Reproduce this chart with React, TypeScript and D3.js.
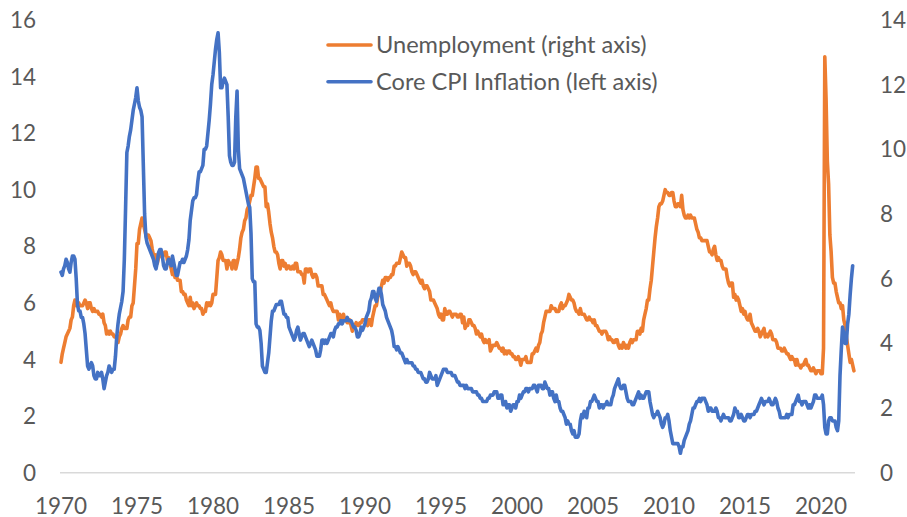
import * as d3 from "d3"

// monthly values, Jan 1970 onward
const startYear = 1970

// unemployment rate, % (Jan 1970 - Mar 2022)
const unemployment: number[] = [
  3.9, 4.2, 4.4, 4.6, 4.8, 4.9, 5.0, 5.1, 5.4, 5.5, 5.9, 6.1,
  5.9, 5.9, 6.0, 5.9, 5.9, 5.9, 6.0, 6.1, 6.0, 5.8, 6.0, 6.0,
  5.8, 5.7, 5.8, 5.7, 5.7, 5.7, 5.6, 5.6, 5.5, 5.6, 5.3, 5.2,
  4.9, 5.0, 4.9, 5.0, 4.9, 4.9, 4.8, 4.8, 4.8, 4.6, 4.8, 4.9,
  5.1, 5.2, 5.1, 5.1, 5.1, 5.4, 5.5, 5.5, 5.9, 6.0, 6.6, 7.2,
  8.1, 8.1, 8.6, 8.8, 9.0, 8.8, 8.6, 8.4, 8.4, 8.4, 8.3, 8.2,
  7.9, 7.7, 7.6, 7.7, 7.4, 7.6, 7.8, 7.8, 7.6, 7.7, 7.8, 7.8,
  7.5, 7.6, 7.4, 7.2, 7.0, 7.2, 6.9, 7.0, 6.8, 6.8, 6.8, 6.4,
  6.4, 6.3, 6.3, 6.1, 6.0, 5.9, 6.2, 5.9, 6.0, 5.8, 5.9, 6.0,
  5.9, 5.9, 5.8, 5.8, 5.6, 5.7, 5.7, 6.0, 5.9, 6.0, 5.9, 6.0,
  6.3, 6.3, 6.3, 6.9, 7.5, 7.6, 7.8, 7.7, 7.5, 7.5, 7.5, 7.2,
  7.5, 7.4, 7.4, 7.2, 7.5, 7.5, 7.2, 7.4, 7.6, 7.9, 8.3, 8.5,
  8.6, 8.9, 9.0, 9.3, 9.4, 9.6, 9.8, 9.8, 10.1, 10.4, 10.8, 10.8,
  10.4, 10.4, 10.3, 10.2, 10.1, 10.1, 9.4, 9.5, 9.2, 8.8, 8.5, 8.3,
  8.0, 7.8, 7.8, 7.7, 7.4, 7.2, 7.5, 7.5, 7.3, 7.4, 7.2, 7.3,
  7.3, 7.2, 7.2, 7.3, 7.2, 7.4, 7.4, 7.1, 7.1, 7.1, 7.0, 7.0,
  6.7, 7.2, 7.2, 7.1, 7.2, 7.2, 7.0, 6.9, 7.0, 7.0, 6.9, 6.6,
  6.6, 6.6, 6.6, 6.3, 6.3, 6.2, 6.1, 6.0, 5.9, 6.0, 5.8, 5.7,
  5.7, 5.7, 5.7, 5.4, 5.6, 5.4, 5.4, 5.6, 5.4, 5.4, 5.3, 5.3,
  5.4, 5.2, 5.0, 5.2, 5.2, 5.3, 5.2, 5.2, 5.3, 5.3, 5.4, 5.4,
  5.4, 5.3, 5.2, 5.4, 5.4, 5.2, 5.5, 5.7, 5.9, 5.9, 6.2, 6.3,
  6.4, 6.6, 6.8, 6.7, 6.9, 6.9, 6.8, 6.9, 6.9, 7.0, 7.0, 7.3,
  7.3, 7.4, 7.4, 7.4, 7.6, 7.8, 7.7, 7.6, 7.6, 7.3, 7.4, 7.4,
  7.3, 7.1, 7.0, 7.1, 7.1, 7.0, 6.9, 6.8, 6.7, 6.8, 6.6, 6.5,
  6.6, 6.6, 6.5, 6.4, 6.1, 6.1, 6.1, 6.0, 5.9, 5.8, 5.6, 5.5,
  5.6, 5.4, 5.4, 5.8, 5.6, 5.6, 5.7, 5.7, 5.6, 5.5, 5.6, 5.6,
  5.6, 5.5, 5.5, 5.6, 5.6, 5.3, 5.5, 5.1, 5.2, 5.2, 5.4, 5.4,
  5.3, 5.2, 5.2, 5.1, 4.9, 5.0, 4.9, 4.8, 4.9, 4.7, 4.6, 4.7,
  4.6, 4.6, 4.7, 4.3, 4.4, 4.5, 4.5, 4.5, 4.6, 4.5, 4.4, 4.4,
  4.3, 4.4, 4.2, 4.3, 4.2, 4.3, 4.3, 4.2, 4.2, 4.1, 4.1, 4.0,
  4.0, 4.1, 4.0, 3.8, 4.0, 4.0, 4.0, 4.1, 3.9, 3.9, 3.9, 3.9,
  4.2, 4.2, 4.3, 4.4, 4.3, 4.5, 4.6, 4.9, 5.0, 5.3, 5.5, 5.7,
  5.7, 5.7, 5.7, 5.9, 5.8, 5.8, 5.8, 5.7, 5.7, 5.7, 5.9, 6.0,
  5.8, 5.9, 5.9, 6.0, 6.1, 6.3, 6.2, 6.1, 6.1, 6.0, 5.8, 5.7,
  5.7, 5.6, 5.8, 5.6, 5.6, 5.6, 5.5, 5.4, 5.4, 5.5, 5.4, 5.4,
  5.3, 5.4, 5.2, 5.2, 5.1, 5.0, 5.0, 4.9, 5.0, 5.0, 5.0, 4.9,
  4.7, 4.8, 4.7, 4.7, 4.6, 4.6, 4.7, 4.7, 4.5, 4.4, 4.5, 4.4,
  4.6, 4.5, 4.4, 4.5, 4.4, 4.6, 4.7, 4.6, 4.7, 4.7, 4.7, 5.0,
  5.0, 4.9, 5.1, 5.0, 5.4, 5.6, 5.8, 6.1, 6.1, 6.5, 6.8, 7.3,
  7.8, 8.3, 8.7, 9.0, 9.4, 9.5, 9.5, 9.6, 9.8, 10.0, 9.9, 9.9,
  9.8, 9.8, 9.9, 9.9, 9.6, 9.4, 9.4, 9.5, 9.5, 9.4, 9.8, 9.3,
  9.1, 9.0, 9.0, 9.1, 9.0, 9.1, 9.0, 9.0, 9.0, 8.8, 8.6, 8.5,
  8.3, 8.3, 8.2, 8.2, 8.2, 8.2, 8.2, 8.0, 7.8, 7.8, 7.7, 7.9,
  8.0, 7.7, 7.5, 7.6, 7.5, 7.5, 7.3, 7.2, 7.2, 7.2, 6.9, 6.7,
  6.6, 6.7, 6.7, 6.2, 6.3, 6.1, 6.2, 6.1, 5.9, 5.7, 5.8, 5.6,
  5.7, 5.5, 5.4, 5.4, 5.6, 5.3, 5.2, 5.1, 5.0, 5.0, 5.1, 5.0,
  4.8, 4.9, 5.0, 5.1, 4.8, 4.9, 4.8, 4.9, 5.0, 4.9, 4.7, 4.7,
  4.7, 4.6, 4.4, 4.4, 4.4, 4.3, 4.3, 4.4, 4.3, 4.2, 4.2, 4.1,
  4.0, 4.1, 4.0, 4.0, 3.8, 4.0, 3.8, 3.8, 3.7, 3.8, 3.8, 3.9,
  4.0, 3.8, 3.8, 3.7, 3.6, 3.6, 3.7, 3.6, 3.5, 3.6, 3.6, 3.6,
  3.5, 3.5, 4.4, 14.7, 13.2, 11.0, 10.2, 8.4, 7.8, 6.9, 6.7, 6.7,
  6.4, 6.2, 6.0, 6.0, 5.8, 5.9, 5.4, 5.2, 4.8, 4.5, 4.2, 3.9,
  4.0, 3.8, 3.6,
]

// core CPI inflation, % y/y (Jan 1970 - Feb 2022)
const coreCpi: number[] = [
  6.2, 6.1, 6.3, 6.4, 6.6, 6.5, 6.3, 6.2, 6.5, 6.7, 6.7, 6.6,
  6.0, 5.2, 5.0, 5.0, 4.8, 4.8, 4.6, 4.3, 3.8, 3.3, 3.2, 3.3,
  3.4, 3.3, 3.0, 2.9, 2.9, 3.1, 3.0, 3.0, 3.1, 2.9, 2.6, 2.8,
  3.0, 3.1, 3.3, 3.2, 3.1, 3.2, 3.2, 3.6, 4.2, 4.6, 4.9, 5.1,
  5.3, 5.6, 6.6, 8.2, 9.9, 10.1, 10.4, 10.6, 10.9, 11.2, 11.4, 11.6,
  11.9, 11.5, 11.3, 11.2, 11.0, 9.5, 8.0, 7.3, 7.1, 7.0, 6.9, 6.8,
  6.7, 6.6, 6.4, 6.3, 6.5, 6.8, 6.9, 6.9, 6.7, 6.4, 6.3, 6.3,
  6.5, 6.6, 6.5, 6.4, 6.7, 6.5, 6.3, 6.1, 6.1, 6.3, 6.5, 6.5,
  6.6, 6.5, 6.6, 6.7, 6.9, 7.2, 7.8, 8.1, 8.4, 8.5, 8.5, 8.6,
  9.0, 9.3, 9.3, 9.4, 9.5, 10.0, 10.0, 10.1, 10.5, 10.9, 11.4, 12.0,
  12.3, 12.7, 13.1, 13.4, 13.6, 13.0, 11.9, 11.9, 12.1, 12.2, 12.1, 12.0,
  11.0, 9.8, 9.6, 9.5, 9.5, 9.6, 11.0, 11.8, 10.0, 9.4, 9.3, 9.2,
  9.1, 8.9, 8.7, 8.5, 8.3, 8.2, 7.4, 6.0, 5.9, 5.9, 4.6, 4.5,
  4.5, 4.4, 4.0, 3.3, 3.2, 3.1, 3.1, 3.4, 3.7, 4.2, 4.7, 5.0,
  5.0, 5.1, 5.2, 5.2, 5.2, 5.3, 5.3, 5.1, 4.9, 4.9, 4.8, 4.8,
  4.5, 4.4, 4.3, 4.2, 4.1, 4.2, 4.4, 4.5, 4.3, 4.1, 4.2, 4.3,
  4.3, 4.2, 4.1, 4.0, 3.9, 4.0, 4.1, 4.0, 3.9, 3.8, 3.6, 3.6,
  3.6, 3.8, 4.1, 4.1, 4.0, 4.1, 4.0, 4.1, 4.2, 4.3, 4.3, 4.2,
  4.4, 4.5, 4.5, 4.6, 4.6, 4.7, 4.6, 4.7, 4.7, 4.7, 4.8, 4.7,
  4.7, 4.7, 4.6, 4.5, 4.5, 4.4, 4.2, 4.2, 4.3, 4.5, 4.4, 4.5,
  4.6, 4.8, 4.9, 5.0, 5.3, 5.4, 5.6, 5.6, 5.4, 5.3, 5.5, 5.7,
  5.7, 5.5, 5.2, 5.1, 5.0, 4.8, 4.7, 4.6, 4.5, 4.4, 4.2, 3.9,
  3.9, 3.8, 3.9, 3.8, 3.7, 3.7, 3.6, 3.5, 3.4, 3.5, 3.4, 3.4,
  3.4, 3.4, 3.3, 3.3, 3.2, 3.2, 3.1, 3.1, 3.1, 3.0, 2.9, 2.9,
  2.8, 2.8, 2.9, 3.1, 3.0, 2.9, 2.9, 2.9, 3.0, 2.7, 2.8, 2.9,
  3.0, 3.1, 3.2, 3.2, 3.2, 3.1, 3.1, 3.1, 3.1, 3.0, 3.0, 3.0,
  2.9, 2.8, 2.8, 2.7, 2.7, 2.7, 2.7, 2.6, 2.7, 2.6, 2.6, 2.6,
  2.6, 2.5, 2.5, 2.5, 2.5, 2.4, 2.4, 2.3, 2.3, 2.2, 2.2, 2.2,
  2.2, 2.3, 2.3, 2.4, 2.4, 2.4, 2.5, 2.5, 2.5, 2.3, 2.3, 2.4,
  2.4, 2.1, 2.1, 2.2, 2.0, 2.1, 2.1, 1.9, 2.0, 2.1, 2.1, 2.0,
  2.2, 2.2, 2.4, 2.3, 2.4, 2.5, 2.5, 2.6, 2.6, 2.5, 2.6, 2.6,
  2.6, 2.7, 2.7, 2.6, 2.5, 2.7, 2.7, 2.7, 2.6, 2.6, 2.8, 2.7,
  2.6, 2.6, 2.4, 2.5, 2.5, 2.3, 2.2, 2.4, 2.2, 2.2, 2.0, 1.9,
  1.9, 1.8, 1.7, 1.5, 1.6, 1.5, 1.5, 1.3, 1.2, 1.3, 1.1, 1.1,
  1.1, 1.2, 1.6, 1.8, 1.7, 1.9, 1.8, 1.7, 2.0, 2.0, 2.2, 2.2,
  2.3, 2.4, 2.3, 2.2, 2.2, 2.0, 2.1, 2.1, 2.0, 2.1, 2.1, 2.2,
  2.1, 2.1, 2.1, 2.3, 2.4, 2.6, 2.7, 2.8, 2.9, 2.7, 2.6, 2.6,
  2.7, 2.7, 2.5, 2.3, 2.2, 2.2, 2.2, 2.1, 2.1, 2.2, 2.3, 2.4,
  2.5, 2.3, 2.4, 2.3, 2.3, 2.4, 2.5, 2.5, 2.5, 2.2, 2.0, 1.8,
  1.7, 1.8, 1.8, 1.9, 1.8, 1.7, 1.5, 1.4, 1.5, 1.7, 1.7, 1.8,
  1.6, 1.3, 1.1, 0.9, 0.9, 0.9, 0.9, 0.9, 0.8, 0.6, 0.8, 0.8,
  1.0, 1.1, 1.2, 1.3, 1.5, 1.6, 1.8, 2.0, 2.0, 2.1, 2.2, 2.2,
  2.3, 2.2, 2.3, 2.3, 2.3, 2.2, 2.1, 1.9, 2.0, 2.0, 1.9, 1.9,
  1.9, 2.0, 1.9, 1.7, 1.7, 1.6, 1.7, 1.8, 1.7, 1.7, 1.7, 1.7,
  1.6, 1.6, 1.7, 1.8, 2.0, 1.9, 1.9, 1.7, 1.7, 1.8, 1.7, 1.6,
  1.6, 1.7, 1.8, 1.8, 1.7, 1.8, 1.8, 1.8, 1.9, 1.9, 2.0, 2.1,
  2.2, 2.3, 2.2, 2.1, 2.2, 2.2, 2.2, 2.3, 2.2, 2.1, 2.1, 2.2,
  2.3, 2.2, 2.0, 1.9, 1.7, 1.7, 1.7, 1.7, 1.7, 1.8, 1.7, 1.8,
  1.8, 1.8, 2.1, 2.1, 2.2, 2.3, 2.4, 2.2, 2.2, 2.1, 2.2, 2.2,
  2.2, 2.1, 2.0, 2.1, 2.0, 2.1, 2.2, 2.4, 2.4, 2.3, 2.3, 2.3,
  2.3, 2.4, 2.1, 1.4, 1.2, 1.2, 1.6, 1.7, 1.7, 1.6, 1.6, 1.6,
  1.4, 1.3, 1.6, 3.0, 3.8, 4.5, 4.3, 4.0, 4.0, 4.6, 4.9, 5.5,
  6.0, 6.4,
]

const xTicks = [1970, 1975, 1980, 1985, 1990, 1995, 2000, 2005, 2010, 2015, 2020]
const leftTicks = [0, 2, 4, 6, 8, 10, 12, 14, 16]
const rightTicks = [0, 2, 4, 6, 8, 10, 12, 14]
const legendLabels = ["Unemployment (right axis)", "Core CPI Inflation (left axis)"]

const W = 907
const H = 517
const orange = "#ED7D31"
const blue = "#4472C4"
const textColor = "#595959"
const font = "Lato, 'Open Sans', sans-serif"

export default function App() {
  const x = d3.scaleLinear().domain([1970, 2020]).range([61, 821])
  const yLeft = d3.scaleLinear().domain([0, 16]).range([472.7, 19.9])
  const yRight = d3.scaleLinear().domain([0, 14]).range([472.7, 19.9])

  const t = (i: number) => startYear + i / 12

  // unemployment is drawn against the 0-16 scale, core CPI against 0-14
  const unempLine = d3
    .line<number>()
    .x((d, i) => x(t(i)))
    .y((d) => yLeft(d))
  const cpiLine = d3
    .line<number>()
    .x((d, i) => x(t(i)))
    .y((d) => yRight(d))

  return (
    <div style={{ position: "absolute", left: 0, top: 0 }}>
      <svg width={W} height={H} style={{ display: "block", background: "#fff" }}>
        {/* baseline */}
        <line x1={60} x2={855} y1={yLeft(0)} y2={yLeft(0)} stroke="#D9D9D9" strokeWidth={1.5} />

        {/* left axis labels */}
        {leftTicks.map((v) => (
          <text key={"l" + v} x={36} y={yLeft(v) + 8} textAnchor="end" fontFamily={font} fontSize={22.5} fill={textColor}>
            {v}
          </text>
        ))}

        {/* right axis labels */}
        {rightTicks.map((v) => (
          <text key={"r" + v} x={880} y={yRight(v) + 8} textAnchor="start" fontFamily={font} fontSize={22.5} fill={textColor}>
            {v}
          </text>
        ))}

        {/* x axis labels */}
        {xTicks.map((yr) => (
          <text key={yr} x={x(yr)} y={513.5} textAnchor="middle" fontFamily={font} fontSize={22.5} fill={textColor}>
            {yr}
          </text>
        ))}

        <path d={unempLine(unemployment) || ""} fill="none" stroke={orange} strokeWidth={3.6} strokeLinejoin="round" strokeLinecap="round" />
        <path d={cpiLine(coreCpi) || ""} fill="none" stroke={blue} strokeWidth={3.6} strokeLinejoin="round" strokeLinecap="round" />

        {/* legend */}
        {legendLabels.map((label, i) => (
          <g key={label} transform={`translate(0,${45 + i * 36.7})`}>
            <line x1={328} x2={371} y1={0} y2={0} stroke={i === 0 ? orange : blue} strokeWidth={3.6} strokeLinecap="round" />
            <text x={376} y={8.3} fontFamily={font} fontSize={23.6} fill={textColor}>
              {label}
            </text>
          </g>
        ))}
      </svg>
    </div>
  )
}
